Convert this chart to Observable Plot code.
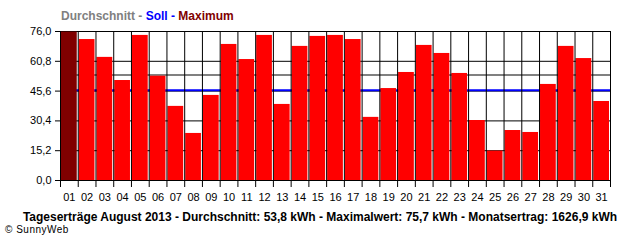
<!DOCTYPE html>
<html>
<head>
<meta charset="utf-8">
<script src="https://cdn.jsdelivr.net/npm/d3@7"></script>
<script src="https://cdn.jsdelivr.net/npm/@observablehq/plot@0.6"></script>
<style>
  body { margin: 0; background: #fff; width: 640px; height: 240px; overflow: hidden; font-family: "Liberation Sans", Arial, sans-serif; }
  #title { height: 24px; box-sizing: border-box; padding-top: 9px; padding-left: 61px; font-size: 12px; font-weight: bold; line-height: 14px; white-space: nowrap; }
  #caption { box-sizing: border-box; padding-top: 4px; font-size: 12px; font-weight: bold; line-height: 14px; text-align: center; white-space: nowrap; }
  #copy { padding-left: 5px; font-size: 10px; line-height: 12px; letter-spacing: 0.5px; white-space: nowrap; }
  svg { display: block; }
</style>
</head>
<body>
<div id="title"><span style="color:#808080">Durchschnitt - </span><span style="color:#0000ff">Soll - </span><span style="color:#800000">Maximum</span></div>
<div id="chart"></div>
<div id="caption">Tageserträge August 2013 - Durchschnitt: 53,8 kWh - Maximalwert: 75,7 kWh - Monatsertrag: 1626,9 kWh</div>
<div id="copy">© SunnyWeb</div>
<script>
const days = ["01","02","03","04","05","06","07","08","09","10","11","12","13","14","15","16","17","18","19","20","21","22","23","24","25","26","27","28","29","30","31"];
const values = [75.7, 71.9, 62.8, 51.0, 74.0, 53.2, 37.8, 24.0, 43.4, 69.4, 61.7, 74.0, 38.8, 68.4, 73.5, 74.0, 71.9, 32.2, 46.9, 55.1, 68.9, 64.8, 54.6, 30.6, 15.0, 25.5, 24.5, 49.0, 68.4, 62.2, 40.3];
const yTicks = [0, 15.2, 30.4, 45.6, 60.8, 76.0];
const refLines = [
  {name: "Durchschnitt", value: 53.8, color: "#808080"},
  {name: "Soll", value: 46.0, color: "#0000ff"}
];
const maximum = 75.7;

const data = days.map((d, i) => ({day: i + 1, label: d, value: values[i]}));
const boundaries = d3.range(0, days.length + 1).map(i => i + 0.5);
const fmt = v => d3.format(".1f")(v).replace(".", ",");

const chart = Plot.plot({
  width: 640,
  height: 182,
  marginTop: 7,
  marginBottom: 26,
  marginLeft: 60,
  marginRight: 30,
  style: {fontFamily: "Liberation Sans, Arial, sans-serif", fontSize: "11px", background: "white", color: "black"},
  x: {type: "linear", domain: [0.5, days.length + 0.5]},
  y: {domain: [0, 76]},
  marks: [
    Plot.ruleY(yTicks, {stroke: "black", strokeWidth: 1}),
    Plot.ruleY(refLines, {y: "value", stroke: d => d.color, strokeWidth: 2}),
    Plot.rectY(data, {
      x1: d => d.day - 0.5,
      x2: d => d.day + 0.5,
      y1: 0,
      y2: "value",
      insetLeft: 1,
      insetRight: 1,
      fill: d => d.value === maximum ? "#800000" : "#ff0000"
    }),
    Plot.ruleX(boundaries, {y1: 0, y2: 76, stroke: "black", strokeWidth: 1}),
    Plot.ruleY([0], {stroke: "black"}),
    Plot.axisY({ticks: yTicks, tickFormat: fmt, tickSize: 5, tickPadding: 4, label: null}),
    Plot.axisX({ticks: boundaries, tickSize: 7, tickFormat: () => "", label: null}),
    Plot.axisX({ticks: data.map(d => d.day), tickFormat: i => days[i - 1], tickSize: 0, tickPadding: 13, label: null})
  ]
});
document.getElementById("chart").appendChild(chart);
</script>
</body>
</html>
